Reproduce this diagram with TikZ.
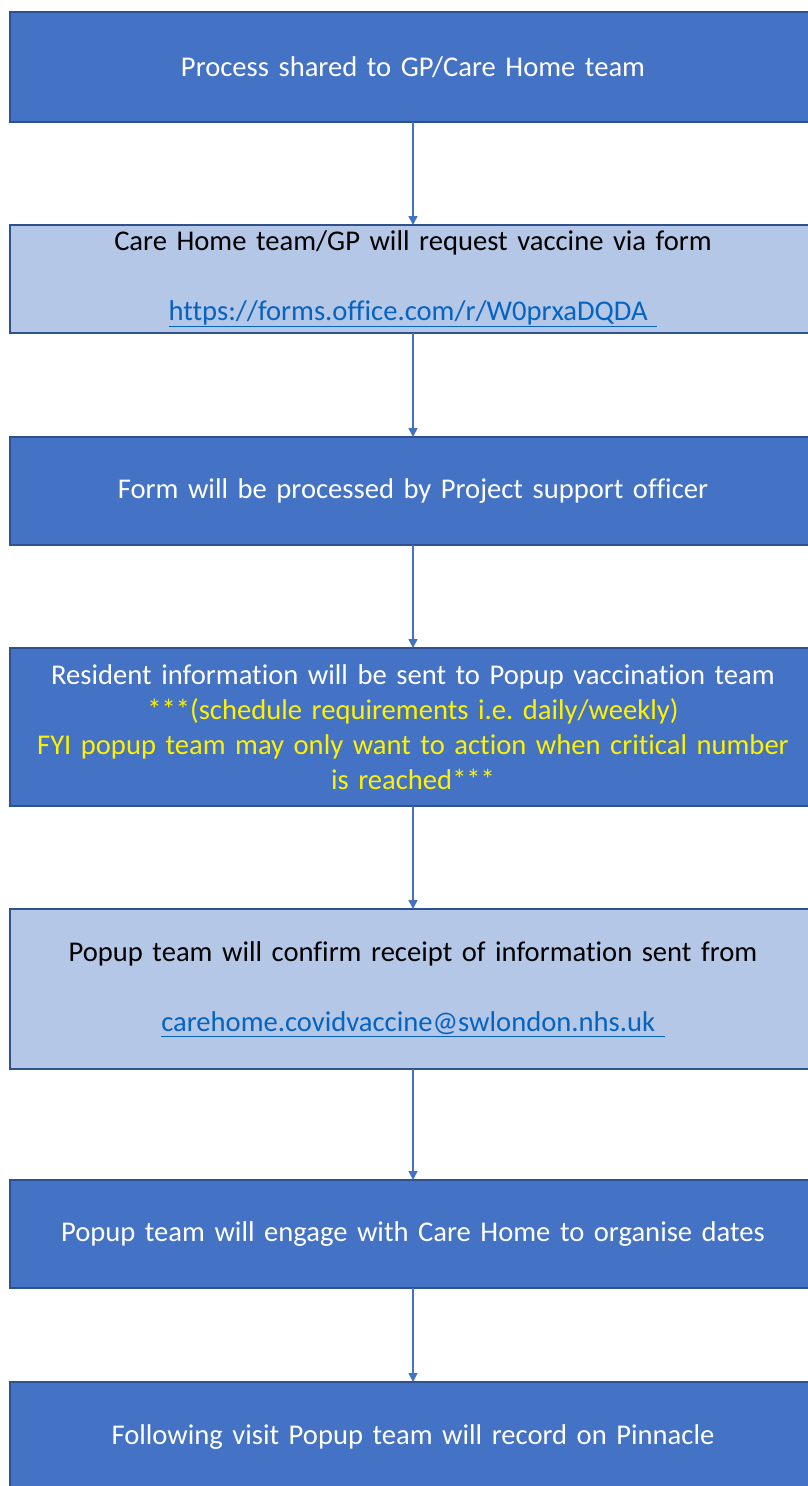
\documentclass[tikz,border=0pt]{standalone}
\usepackage{fontspec}
\setmainfont{Carlito}[Ligatures=NoCommon]
\usetikzlibrary{arrows.meta,positioning}

\definecolor{boxblue}{HTML}{4472C4}
\definecolor{boxline}{HTML}{2F528F}
\definecolor{boxlight}{HTML}{B4C7E7}
\definecolor{linkblue}{HTML}{0563C1}

\frenchspacing
\begin{document}
\begin{tikzpicture}
		[step box/.style={draw=boxline,line width=1.5pt,rectangle,outer sep=0pt,minimum width=806pt,text width=790pt,align=center,font=\fontsize{28.6}{35}\selectfont},
		dark/.style={step box,fill=boxblue,text=white},
		light/.style={step box,fill=boxlight,text=black},
		flow/.style={draw=boxblue,line width=1.5pt,-{Triangle[length=9pt,width=9pt]}}]
		
			\useasboundingbox (0,0) rectangle (808pt,-1486pt);
			\begin{scope}
			\clip (0,0) rectangle (808pt,-1486pt);
			
			\node[dark, minimum height=110pt] (shared) at (413pt,-67pt) {Process shared to GP/Care Home team};
			\node[light, minimum height=108pt, below=103pt of shared] (request) {Care Home team/GP will request vaccine via form\\[35pt]\textcolor{linkblue}{\underline{https://forms.office.com/r/W0prxaDQDA\ }}};
			\node[dark, minimum height=108pt, below=104pt of request] (processed) {Form will be processed by Project support officer};
			\node[dark, minimum height=158pt, below=103pt of processed] (resident) {Resident information will be sent to Popup vaccination team\\
				\textcolor{yellow}{***(schedule requirements i.e. daily/weekly)}\\
				\textcolor{yellow}{FYI popup team may only want to action when critical number}\\
				\textcolor{yellow}{is reached***}};
			\node[light, minimum height=160pt, below=103pt of resident] (confirm) {Popup team will confirm receipt of information sent from\\[35pt]\textcolor{linkblue}{\underline{carehome.covidvaccine@swlondon.nhs.uk\ }}};
			\node[dark, minimum height=108pt, below=111pt of confirm] (engage) {Popup team will engage with Care Home to organise dates};
			\node[dark, minimum height=110pt, below=94pt of engage] (record) {Following visit Popup team will record on Pinnacle};
			
			\path
			(shared) edge[flow] (request)
			(request) edge[flow] (processed)
			(processed) edge[flow] (resident)
			(resident) edge[flow] (confirm)
			(confirm) edge[flow] (engage)
			(engage) edge[flow] (record);
			\end{scope}

	\end{tikzpicture}
\end{document}
